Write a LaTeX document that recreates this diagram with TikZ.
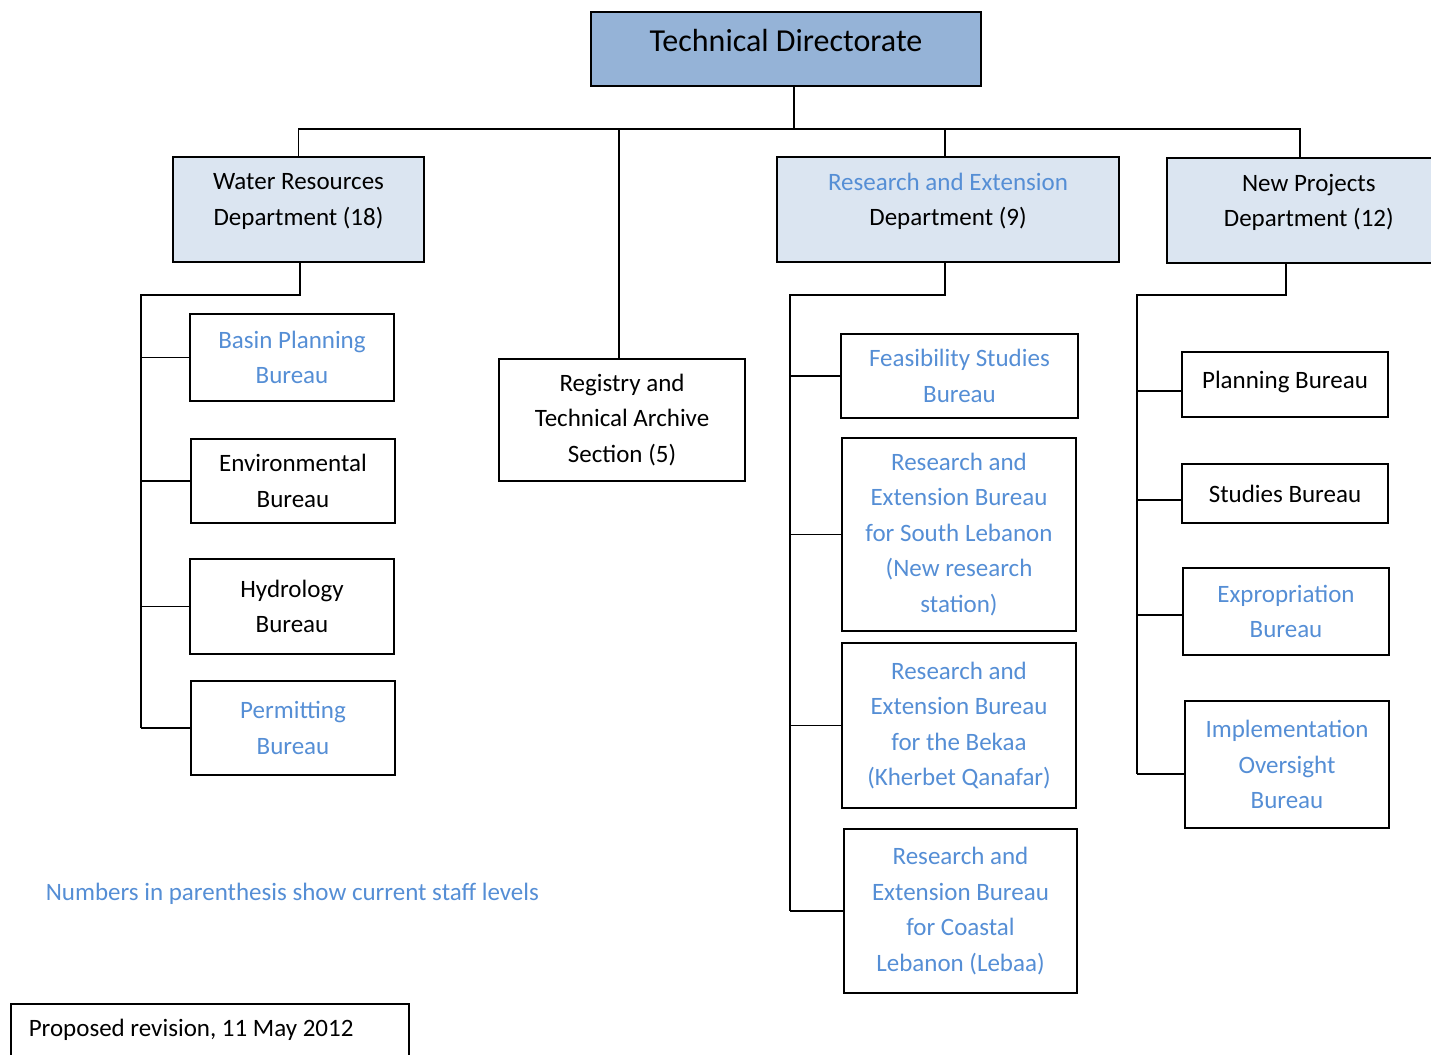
\documentclass[tikz,border=0pt]{standalone}
\usepackage{fontspec}
\setmainfont{Carlito}
\usepackage{xcolor}
\usetikzlibrary{positioning,calc}
\definecolor{topfill}{HTML}{95B3D7}
\definecolor{deptfill}{HTML}{DBE5F1}
\definecolor{bluetext}{HTML}{558ED5}

\begin{document}
\begin{tikzpicture}[x=0.5pt,y=-0.5pt,line width=0.8pt,
    box node/.style={draw,rectangle,inner sep=1pt,align=center,font=\fontsize{12.5}{17.75}\selectfont},
    top node/.style={box node,fill=topfill,font=\fontsize{16}{20}\selectfont,minimum width=195pt,minimum height=37pt,text depth=9pt},
    dept node/.style={box node,fill=deptfill,minimum height=52.5pt,text depth=10pt},
    blue node/.style={box node,text=bluetext},
    note node/.style={inner sep=0pt,font=\fontsize{12.5}{17.75}\selectfont}]

    \useasboundingbox (0,0) rectangle (1431,1055);

    % top and departments
    \node[top node] (top) at (786,49) {Technical Directorate};
    \node[dept node,minimum width=125.5pt] (water) at (298.5,209.5) {Water Resources\\Department (18)};
    \node[dept node,minimum width=171pt] (research) at (948,209.5) {{\color{bluetext}Research and Extension}\\Department (9)};
    \node[dept node,minimum width=142pt,anchor=west] (newproj) at (1166,210.5) {New Projects\\Department (12)};
    \node[box node,minimum width=123pt,minimum height=61pt] (registry) at (622,420) {Registry and\\Technical Archive\\Section (5)};

    % water resources bureaus
    \node[blue node,minimum width=102pt,minimum height=43.5pt] (basin) at (292,357.5) {Basin Planning\\Bureau};
    \node[box node,minimum width=102pt,minimum height=42pt] (env) at (293,481) {Environmental\\Bureau};
    \node[box node,minimum width=102pt,minimum height=47.5pt] (hydro) at (292,606.5) {Hydrology\\Bureau};
    \node[blue node,minimum width=102pt,minimum height=47pt] (permit) at (293,728) {Permitting\\Bureau};

    % research and extension bureaus
    \node[blue node,minimum width=118.5pt,minimum height=42pt] (feas) at (959.5,376) {Feasibility Studies\\Bureau};
    \node[blue node,minimum width=117pt,minimum height=96.5pt] (south) at (959,534.5) {Research and\\Extension Bureau\\for South Lebanon\\(New research\\station)};
    \node[blue node,minimum width=117pt,minimum height=82.5pt] (bekaa) at (959,725.5) {Research and\\Extension Bureau\\for the Bekaa\\(Kherbet Qanafar)};
    \node[blue node,minimum width=116.5pt,minimum height=82pt] (coastal) at (960.5,911) {Research and\\Extension Bureau\\for Coastal\\Lebanon (Lebaa)};

    % new projects bureaus
    \node[box node,minimum width=103pt,minimum height=32.5pt,text depth=5pt] (planning) at (1285,384.5) {Planning Bureau};
    \node[box node,minimum width=103pt,minimum height=29.5pt] (studies) at (1285,493.5) {Studies Bureau};
    \node[blue node,minimum width=103pt,minimum height=43.5pt] (expro) at (1286,611.5) {Expropriation\\Bureau};
    \node[blue node,minimum width=102pt,minimum height=63.5pt] (implement) at (1287,764.5) {Implementation\\Oversight\\Bureau};

    % notes
    \node[note node,text=bluetext,anchor=west] (staff) at (45,894) {Numbers in parenthesis show current staff levels};
    \node[draw,anchor=north west,minimum width=199pt,minimum height=31pt,inner xsep=9pt,text depth=7pt,font=\fontsize{12.5}{17.75}\selectfont] (revision) at (10,1003) {\makebox[181pt][l]{Proposed revision, 11 May 2012}};

    % connectors
    \coordinate (tjoin) at (794,129);
    \coordinate (spineW) at (141,295);
    \coordinate (spineR) at (790,295);
    \coordinate (spineN) at (1137,295);

    \draw (top.south -| tjoin) -- (tjoin);
    \draw (water.north) |- (tjoin) -| (1300,158);
    \draw (registry.north -| 619,0) -- (tjoin -| 619,0);
    \draw (research.north -| 945,0) -- (tjoin -| 945,0);

    \draw (water.south -| 300,0) |- (spineW) -- (spineW |- permit.west);
    \foreach \n in {basin,env,hydro,permit}
        \draw (\n.west) -- (\n.west -| spineW);

    \draw (research.south -| 945,0) |- (spineR) -- (spineR |- coastal.west);
    \foreach \n in {feas,south,bekaa,coastal}
        \draw (\n.west) -- (\n.west -| spineR);

    \draw (newproj.south -| 1286,0) |- (spineN) -- (spineN |- 0,774);
    \draw (planning.west |- 0,391) -- (spineN |- 0,391);
    \draw (studies.west |- 0,500) -- (spineN |- 0,500);
    \draw (expro.west |- 0,615) -- (spineN |- 0,615);
    \draw (implement.west |- 0,774) -- (spineN |- 0,774);
\end{tikzpicture}
\end{document}
